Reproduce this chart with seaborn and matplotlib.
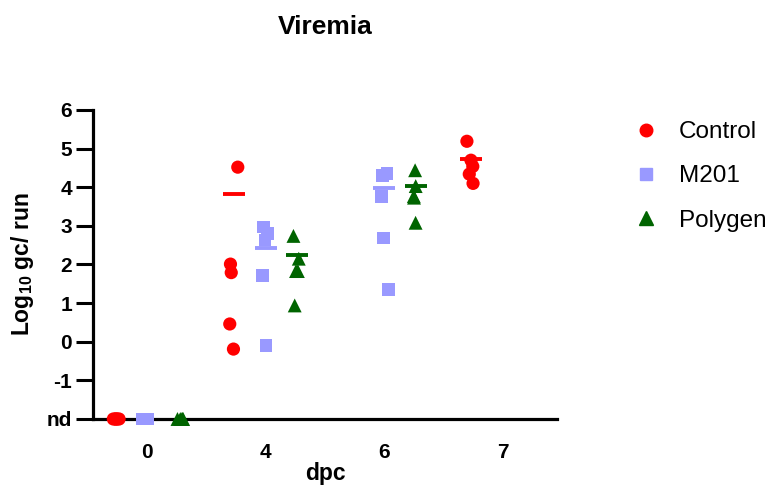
import numpy as np
import pandas as pd
import seaborn as sns
import matplotlib.pyplot as plt
from matplotlib.lines import Line2D

sns.set_theme(style="white")
plt.rcParams["font.family"] = ["Liberation Sans", "DejaVu Sans"]
plt.rcParams["text.color"] = "black"
plt.rcParams["axes.labelcolor"] = "black"
plt.rcParams["xtick.color"] = "black"
plt.rcParams["ytick.color"] = "black"

# datos (log10 gc/run, nd = -2)
dpc_levels = ["0", "4", "6", "7"]
groups = ["Control", "M201", "Polygen"]

control_dpc = ["0", "0", "0", "0", "0", "4", "4", "4", "4", "4", "7", "7", "7", "7", "7"]
control_val = [-2, -2, -2, -2, -2, 4.52, 2.01, 1.79, 0.46, -0.19, 5.19, 4.70, 4.54, 4.34, 4.10]

m201_dpc = ["0", "0", "0", "0", "0", "4", "4", "4", "4", "4", "6", "6", "6", "6", "6"]
m201_val = [-2, -2, -2, -2, -2, 2.97, 2.80, 2.64, 1.71, -0.10, 4.36, 4.31, 3.76, 2.68, 1.35]

polygen_dpc = ["0", "0", "0", "0", "0", "4", "4", "4", "4", "4", "6", "6", "6", "6", "6"]
polygen_val = [-2, -2, -2, -2, -2, 2.74, 2.15, 1.83, 1.83, 0.94, 4.44, 4.03, 3.77, 3.73, 3.08]

# lineas de media (por dpc)
mean_control = [np.nan, 3.83, np.nan, 4.73]
mean_m201 = [np.nan, 2.43, 3.99, np.nan]
mean_polygen = [np.nan, 2.24, 4.02, np.nan]

colors = {"Control": "#FF0000", "M201": "#9999FF", "Polygen": "#006400"}
markers = {"Control": "o", "M201": "s", "Polygen": "^"}
sizes = {"Control": 9.5, "M201": 9.0, "Polygen": 10.0}

df = pd.concat([
    pd.DataFrame({"dpc": control_dpc, "val": control_val, "group": "Control"}),
    pd.DataFrame({"dpc": m201_dpc, "val": m201_val, "group": "M201"}),
    pd.DataFrame({"dpc": polygen_dpc, "val": polygen_val, "group": "Polygen"}),
], ignore_index=True)

means = pd.concat([
    pd.DataFrame({"dpc": dpc_levels, "val": mean_control, "group": "Control"}),
    pd.DataFrame({"dpc": dpc_levels, "val": mean_m201, "group": "M201"}),
    pd.DataFrame({"dpc": dpc_levels, "val": mean_polygen, "group": "Polygen"}),
], ignore_index=True).dropna()

fig = plt.figure(figsize=(7.73, 4.88), dpi=100)
ax = fig.add_axes([0.1203, 0.1414, 0.6003, 0.6332])

np.random.seed(3)
for g in groups:
    sns.stripplot(
        data=df[df["group"] == g], x="dpc", y="val", hue="group",
        order=dpc_levels, hue_order=groups, palette=colors,
        dodge=True, jitter=0.12, marker=markers[g], size=sizes[g],
        linewidth=0, legend=False, clip_on=False, zorder=3, ax=ax,
    )

sns.pointplot(
    data=means, x="dpc", y="val", hue="group",
    order=dpc_levels, hue_order=groups, palette=colors,
    dodge=0.5333, linestyle="none", markers="_", markersize=16,
    markeredgewidth=2.8, errorbar=None, legend=False, ax=ax,
)

ax.set_xlim(-0.455, 3.455)
ax.set_ylim(-2, 6)
ax.set_yticks(range(-2, 7))
ax.set_yticklabels(["nd", "-1", "0", "1", "2", "3", "4", "5", "6"])
for s in ["top", "right"]:
    ax.spines[s].set_visible(False)
for s in ["left", "bottom"]:
    ax.spines[s].set_linewidth(2.3)
    ax.spines[s].set_color("black")
ax.tick_params(axis="y", length=12, width=2.2, pad=3, labelsize=15, left=True)
ax.tick_params(axis="x", length=0, pad=17, labelsize=15)
for lab in ax.get_xticklabels() + ax.get_yticklabels():
    lab.set_fontweight("bold")

ax.set_xlabel("dpc", fontsize=16.5, fontweight="bold", labelpad=0)
ax.set_ylabel(r"Log$_{\mathregular{10}}$ gc/ run", fontsize=16.5, fontweight="bold", labelpad=8)
ax.set_title("Viremia", fontsize=19, fontweight="bold", pad=55)

handles = [
    Line2D([], [], linestyle="none", marker=markers[g], color=colors[g], markersize=sizes[g] * 0.95)
    for g in groups
]
fig.legend(
    handles, groups, loc="upper left", bbox_to_anchor=(0.82, 0.752),
    frameon=False, fontsize=17.5, handlelength=1.0, handletextpad=0.85,
    labelspacing=0.92, borderpad=0, borderaxespad=0,
)

fig.savefig("out.png", dpi=100)
